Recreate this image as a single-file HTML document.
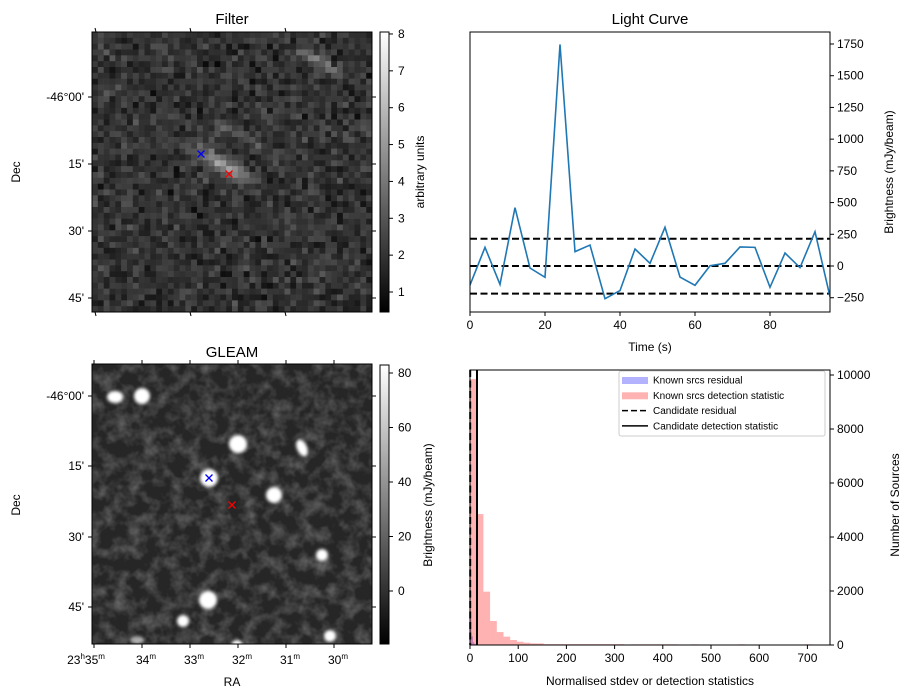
<!DOCTYPE html>
<html><head><meta charset="utf-8"><style>
body{margin:0;background:#fff;}
svg{display:block;font-family:"Liberation Sans","DejaVu Sans",sans-serif;}
</style></head><body>
<svg id="fig" width="913" height="699" viewBox="0 0 913 699">
<defs>
<linearGradient id="gray" x1="0" y1="1" x2="0" y2="0"><stop offset="0" stop-color="#000"/><stop offset="1" stop-color="#fff"/></linearGradient>
<filter id="tex" x="0" y="0" width="100%" height="100%">
<feTurbulence type="fractalNoise" baseFrequency="0.07" numOctaves="3" seed="7"/>
<feColorMatrix type="matrix" values="0 0 0 0 1  0 0 0 0 1  0 0 0 0 1  1.6 0 0 0 -0.62"/>
</filter>
<filter id="blur"><feGaussianBlur stdDeviation="1.6"/></filter>
<clipPath id="gclip"><rect x="92" y="364" width="280" height="280"/></clipPath>
</defs>
<g id="filterImg"></g>
<g id="gleam" clip-path="url(#gclip)">
<rect x="92" y="364" width="280" height="280" fill="#262626"/>
<rect x="92" y="364" width="280" height="280" filter="url(#tex)" opacity="0.35"/>
<g filter="url(#blur)" fill="#fff">
<ellipse cx="115" cy="397" rx="8" ry="6"/><circle cx="142" cy="396" r="8"/>
<circle cx="238" cy="444" r="9"/><ellipse cx="302" cy="448" rx="5" ry="9" transform="rotate(-25 302 448)"/>
<circle cx="209" cy="478" r="9"/><circle cx="274" cy="495" r="8"/>
<circle cx="322" cy="555" r="6"/><circle cx="208" cy="600" r="9"/>
<circle cx="183" cy="621" r="6"/><circle cx="330" cy="636" r="6"/><circle cx="237" cy="646" r="6"/>
<ellipse cx="137" cy="640" rx="7" ry="4" opacity="0.6"/>
</g></g>
<g id="static" stroke="#000" fill="none"></g>
<g id="lc"></g>
<g id="hist"></g>
</svg>
<script>
// Light curve data
const lcTimes=[0,4,8,12,16,20,24,28,32,36,40,44,48,52,56,60,64,68,72,76,80,84,88,92,96];
const lcValues=[-150,147,-145,460,-16,-89,1747,113,165,-258,-194,134,21,305,-87,-152,2,21,150,147,-168,102,-13,270,-242];
const lcThresholds=[215,0,-218];
const lcXTicks=[0,20,40,60,80];
const lcYTicks=[-250,0,250,500,750,1000,1250,1500,1750];
// Histogram data
const histBinWidth=13.9;
const knownDetCounts=[9850,4850,1975,890,480,310,185,120,85,60,60,30,30,30,30,30,30,30,30,30,30,30,30,0,25,25,25,25,25,25,25,0,0,25,0,0,0,0,0,0,25,0,0,0,0,0,0,0,0,0,25];
const residBinWidth=3;
const knownResCounts=[950,320,100,40,20,12,8,6,5,5,4,4,3,3,3,3,2,2,2,2];
const candResidual=0.4;
const candDetection=14.5;
const histXTicks=[0,100,200,300,400,500,600,700];
const histYTicks=[0,2000,4000,6000,8000,10000];

const NS='http://www.w3.org/2000/svg';
function mk(parent,tag,attrs,name,inter){const e=document.createElementNS(NS,tag);for(const k in attrs)e.setAttribute(k,attrs[k]);


parent.appendChild(e);return e;}
function txt(parent,x,y,s,size,anchor,name,extra){const t=mk(parent,'text',Object.assign({x:x,y:y,'font-size':size,'text-anchor':anchor||'middle',fill:'#000',stroke:'none'},extra||{}),name,false);t.textContent=s;return t;}

// Filter noise image (procedural raster texture)
(function(){const g=document.getElementById('filterImg');let s=12345;function r(){s=(s*1103515245+12345)%2147483648;return s/2147483648;}
const n=48,c=280/n;let h='';
for(let i=0;i<n;i++)for(let j=0;j<n;j++){const x=92+j*c,y=32+i*c;let v=0.02+(r()+r()+r())/3*0.36;
const cx=x+c/2,cy=y+c/2;
const d1=Math.abs((cy-150)-(cx-195)*0.55);if(cx>165&&cx<260&&d1<14)v+=0.5*(1-d1/14)*Math.max(0,1-Math.abs(cx-222)/45);
const d3=Math.abs((cy-135)-(cx-240)*0.5);if(cx>215&&cx<265&&d3<8)v+=0.15*(1-d3/8);
const d2=Math.abs((cy-60)-(cx-315)*0.6);if(cx>295&&cx<345&&d2<9)v+=0.25*(1-d2/9);
v=Math.min(1,v);const gv=Math.round(v*255);h+=`<rect x="${x.toFixed(2)}" y="${y.toFixed(2)}" width="${(c+0.3).toFixed(2)}" height="${(c+0.3).toFixed(2)}" fill="rgb(${gv},${gv},${gv})"/>`;}
g.innerHTML=h;})();

// static axes for image panels
(function(){const g=document.getElementById('static');
mk(g,'rect',{x:92,y:32,width:280,height:280},'filter-frame',false);
mk(g,'rect',{x:92,y:364,width:280,height:280},'gleam-frame',false);
mk(g,'rect',{x:380,y:32,width:9,height:280,fill:'url(#gray)',stroke:'#000'},'filter-colorbar',false);
mk(g,'rect',{x:380,y:365,width:9,height:279,fill:'url(#gray)',stroke:'#000'},'gleam-colorbar',false);
txt(g,232,24,'Filter',15,'middle','filter-title');
txt(g,232,357,'GLEAM',15,'middle','gleam-title');
[[97,"-46°00'"],[164,"15'"],[231,"30'"],[298,"45'"]].forEach(d=>{mk(g,'line',{x1:88,y1:d[0],x2:92,y2:d[0]},'filter-dec-tick',false);txt(g,84,d[0]+4,d[1],12,'end','filter-dec-label');mk(g,'line',{x1:372,y1:d[0],x2:376,y2:d[0]},'filter-dec-tick-right',false);});
[[396,"-46°00'"],[466,"15'"],[537,"30'"],[607,"45'"]].forEach(d=>{mk(g,'line',{x1:88,y1:d[0],x2:92,y2:d[0]},'gleam-dec-tick',false);txt(g,84,d[0]+4,d[1],12,'end','gleam-dec-label');mk(g,'line',{x1:372,y1:d[0],x2:376,y2:d[0]},'gleam-dec-tick-right',false);});
txt(g,20,172,'Dec',12,'middle','filter-dec-title',{transform:'rotate(-90 20 172)'});
txt(g,20,505,'Dec',12,'middle','gleam-dec-title',{transform:'rotate(-90 20 505)'});
[95,190,285].forEach(x=>{mk(g,'line',{x1:x,y1:28,x2:x+1,y2:32},'filter-ra-tick',false);mk(g,'line',{x1:x,y1:312,x2:x+1,y2:316},'filter-ra-tick',false);});
[94,142,190,238,286,334].forEach(x=>{mk(g,'line',{x1:x,y1:360,x2:x,y2:364},'gleam-ra-tick-top',false);mk(g,'line',{x1:x,y1:644,x2:x,y2:648},'gleam-ra-tick',false);});
const ra=[[94,'23','h','35'],[142,'','','34'],[190,'','','33'],[238,'','','32'],[286,'','','31'],[334,'','','30']];
ra.forEach(d=>{const t=mk(g,'text',{x:d[0]+(d[1]?-8:4),y:664,'font-size':12,'text-anchor':'middle',fill:'#000',stroke:'none'},'ra-label',false);
t.innerHTML=(d[1]?d[1]+'<tspan font-size="8" dy="-5">h</tspan><tspan dy="5">'+d[3]+'</tspan>':d[3])+'<tspan font-size="8" dy="-5">m</tspan>';});
txt(g,232,686,'RA',12,'middle','ra-title');
for(let v=1;v<=8;v++){const y=292-(v-1)*36.86;mk(g,'line',{x1:389,y1:y,x2:393,y2:y},'filter-cbar-tick',false);txt(g,398,y+4,String(v),12,'start','filter-cbar-label');}
txt(g,424,172,'arbitrary units',12,'middle','filter-cbar-title',{transform:'rotate(-90 424 172)'});
[80,60,40,20,0].forEach(v=>{const y=591-v*2.725;mk(g,'line',{x1:389,y1:y,x2:393,y2:y},'gleam-cbar-tick',false);txt(g,398,y+4,String(v),12,'start','gleam-cbar-label');});
txt(g,432,505,'Brightness (mJy/beam)',12,'middle','gleam-cbar-title',{transform:'rotate(-90 432 505)'});
function cross(x,y,col,n){mk(g,'path',{d:`M${x-3.5} ${y-3.5}L${x+3.5} ${y+3.5}M${x-3.5} ${y+3.5}L${x+3.5} ${y-3.5}`,stroke:col,'stroke-width':1.3},n,false);}
cross(201,154,'#0000ff','filter-blue-marker');cross(229,174,'#ff0000','filter-red-marker');
cross(209,478,'#0000ff','gleam-blue-marker');cross(232,505,'#ff0000','gleam-red-marker');
})();

// Light curve
(function(){const g=document.getElementById('lc');const L=470,R=830,T=32,B=312;
const xs=t=>L+(t-0)/96*(R-L);const ys=v=>266-v*0.12686;
mk(g,'clipPath',{id:'lcclip'},'lc-clip',false).innerHTML='<rect x="470" y="32" width="360" height="280"/>';
const cg=mk(g,'g',{'clip-path':'url(#lcclip)'},'lc-plot-area',false);
lcThresholds.forEach(v=>mk(cg,'line',{x1:L,x2:R,y1:ys(v),y2:ys(v),stroke:'#000','stroke-width':2,'stroke-dasharray':'7,3.5'},'lc-threshold-line',false));
mk(cg,'polyline',{points:lcTimes.map((t,i)=>xs(t)+','+ys(lcValues[i])).join(' '),fill:'none',stroke:'#1f77b4','stroke-width':1.6},'light-curve-line',false);
mk(g,'rect',{x:L,y:T,width:R-L,height:B-T,fill:'none',stroke:'#000'},'lc-frame',false);
lcXTicks.forEach(t=>{mk(g,'line',{x1:xs(t),x2:xs(t),y1:B,y2:B+4,stroke:'#000'},'lc-x-tick',false);txt(g,xs(t),B+17,String(t),12,'middle','lc-x-label');});
lcYTicks.forEach(v=>{mk(g,'line',{x1:R,x2:R+4,y1:ys(v),y2:ys(v),stroke:'#000'},'lc-y-tick',false);txt(g,R+7,ys(v)+4,v<0?'−'+(-v):String(v),12,'start','lc-y-label');});
txt(g,650,24,'Light Curve',15,'middle','lc-title');
txt(g,650,351,'Time (s)',12,'middle','lc-x-title');
txt(g,893,172,'Brightness (mJy/beam)',12,'middle','lc-y-title',{transform:'rotate(-90 893 172)'});
})();

// Histogram
(function(){const g=document.getElementById('hist');const L=470,R=830,T=370,B=645;
const xs=v=>L+v*0.482;const ys=c=>B-c*0.027;
knownResCounts.forEach((c,i)=>{if(!c)return;mk(g,'rect',{x:xs(i*residBinWidth),y:ys(c),width:residBinWidth*0.482,height:B-ys(c),fill:'#0000ff','fill-opacity':0.3},'hist-residual-bar',false);});
knownDetCounts.forEach((c,i)=>{if(!c)return;mk(g,'rect',{x:xs(i*histBinWidth),y:ys(c),width:histBinWidth*0.482,height:B-ys(c),fill:'#ff0000','fill-opacity':0.3},'hist-detection-bar',false);});
mk(g,'line',{x1:xs(candResidual),x2:xs(candResidual),y1:T,y2:B,stroke:'#000','stroke-width':2,'stroke-dasharray':'7,3.5'},'candidate-residual-line',false);
mk(g,'line',{x1:xs(candDetection),x2:xs(candDetection),y1:T,y2:B,stroke:'#000','stroke-width':2},'candidate-detection-line',false);
mk(g,'rect',{x:L,y:T,width:R-L,height:B-T,fill:'none',stroke:'#000'},'hist-frame',false);
histXTicks.forEach(v=>{mk(g,'line',{x1:xs(v),x2:xs(v),y1:B,y2:B+4,stroke:'#000'},'hist-x-tick',false);txt(g,xs(v),B+17,String(v),12,'middle','hist-x-label');});
histYTicks.forEach(v=>{mk(g,'line',{x1:R,x2:R+4,y1:ys(v),y2:ys(v),stroke:'#000'},'hist-y-tick',false);txt(g,R+7,ys(v)+4,String(v),12,'start','hist-y-label');});
txt(g,650,685,'Normalised stdev or detection statistics',12,'middle','hist-x-title');
txt(g,899,505,'Number of Sources',12,'middle','hist-y-title',{transform:'rotate(-90 899 505)'});
const lg=mk(g,'g',{},'hist-legend',false);
mk(lg,'rect',{x:619,y:371,width:206,height:65,rx:2,fill:'#fff','fill-opacity':0.8,stroke:'#ccc'},'legend-box',false);
const items=[['Known srcs residual','b'],['Known srcs detection statistic','r'],['Candidate residual','d'],['Candidate detection statistic','s']];
items.forEach((it,i)=>{const y=380+i*15.3;
if(it[1]=='b')mk(lg,'rect',{x:622,y:y-3,width:26,height:7,fill:'#0000ff','fill-opacity':0.3},'legend-residual-swatch',false);
if(it[1]=='r')mk(lg,'rect',{x:622,y:y-3,width:26,height:7,fill:'#ff0000','fill-opacity':0.3},'legend-detection-swatch',false);
if(it[1]=='d')mk(lg,'line',{x1:622,x2:648,y1:y,y2:y,stroke:'#000','stroke-width':1.5,'stroke-dasharray':'6,3'},'legend-cand-residual',false);
if(it[1]=='s')mk(lg,'line',{x1:622,x2:648,y1:y,y2:y,stroke:'#000','stroke-width':1.5},'legend-cand-detection',false);
txt(lg,653,y+3.5,it[0],10,'start','legend-label');});
})();
</script>
</body></html>
